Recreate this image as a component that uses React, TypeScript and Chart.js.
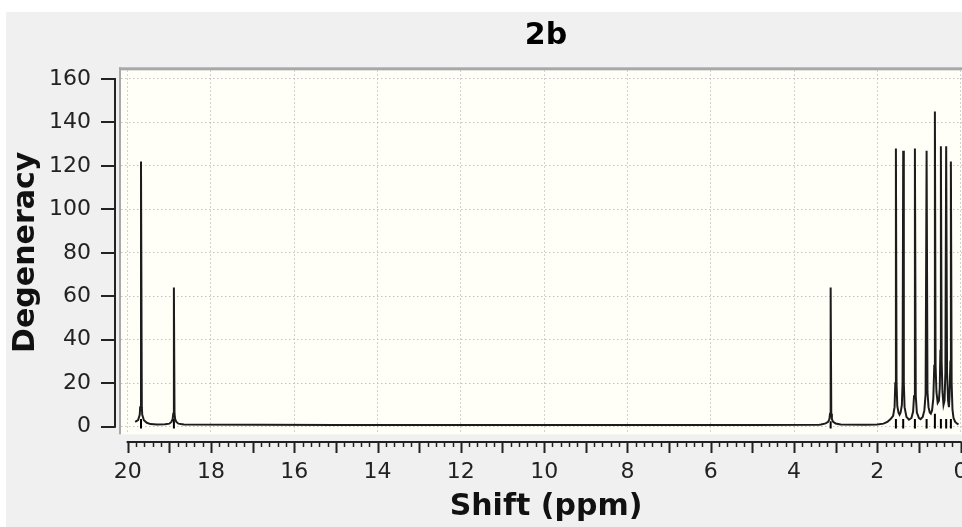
import { useEffect, useRef } from "react";
import { Chart, registerables } from "chart.js";

Chart.register(...registerables);

const TITLE = "2b";
const X_TITLE = "Shift (ppm)";
const Y_TITLE = "Degeneracy";

const X_TICKS = [20, 18, 16, 14, 12, 10, 8, 6, 4, 2, 0];
const Y_TICKS = [0, 20, 40, 60, 80, 100, 120, 140, 160];

// Simulated spectrum trace (ppm, degeneracy), grouped by peak
const SHIFT_PPM = [
  19.82, 19.75, 19.71, 19.7, 19.68, 19.66, 19.65, 19.61, 19.54, 19.45, 19.3,
  19.1, 19.0, 18.95, 18.92, 18.905, 18.89, 18.875, 18.86, 18.83, 18.78, 18.65,
  15.0, 12.0, 8.0, 5.0, 3.4,
  3.35, 3.24, 3.18, 3.15, 3.135, 3.12, 3.105, 3.09, 3.06, 3.0, 2.88, 2.3,
  2.0, 1.85, 1.76, 1.68, 1.62, 1.585, 1.568, 1.553, 1.538, 1.52, 1.49, 1.465,
  1.44, 1.41, 1.393, 1.378, 1.363, 1.345, 1.3, 1.24,
  1.18, 1.14, 1.118, 1.097, 1.076, 1.05, 1.0, 0.96,
  0.91, 0.87, 0.84, 0.816, 0.795, 0.77, 0.74, 0.715,
  0.685, 0.655, 0.632, 0.617, 0.6, 0.58, 0.55,
  0.52, 0.5, 0.485, 0.473, 0.455, 0.435, 0.41,
  0.385, 0.365, 0.346, 0.325, 0.3, 0.28,
  0.265, 0.245, 0.233, 0.215, 0.195, 0.17, 0.13, 0.08, 0.05,
];
const DEGENERACY = [
  2.2, 3.0, 5.5, 9, 122, 9, 5.5, 3.0, 1.8, 1.2, 1.0,
  1.1, 1.4, 2.2, 3.5, 6, 64, 6, 3.5, 2.2, 1.4, 1.0,
  0.8, 0.8, 0.8, 0.8, 0.9,
  1.0, 1.5, 2.2, 3.5, 6, 64, 6, 3.5, 2.2, 1.5, 1.0, 0.9,
  1.0, 1.4, 2.2, 3.5, 5, 9, 20, 128, 20, 9.5, 6.5, 5.5,
  6.5, 10, 20, 127, 20, 9, 4.5, 3.2,
  4, 7, 14, 128, 14, 6.5, 4, 3.5,
  4.5, 7.5, 15, 127, 16, 9, 6.5, 6,
  7.5, 13, 28, 145, 28, 16, 11,
  12, 18, 35, 129, 30, 16, 10,
  12, 25, 129, 25, 12, 9,
  14, 30, 122, 20, 8, 4, 2.2, 1.4, 1.0,
];

// Stick markers under each peak
const STICK_PPM = [19.68, 18.89, 3.12, 1.553, 1.378, 1.097, 0.816, 0.617, 0.473, 0.346, 0.233];
const STICK_TOP = [3.5, 3.5, 2.5, 3.5, 3.5, 3.5, 3.5, 6, 3.5, 3.5, 3.5];
const STICK_BASE = -0.8;

const X_MIN = -0.25;
const X_MAX = 20.16;
const Y_MIN = -3.5;
const Y_MAX = 164;

const TICK_FONT = { family: "DejaVu Sans", size: 22, weight: "normal" as const };
const TITLE_FONT = { family: "DejaVu Sans", size: 30, weight: "bold" as const };

const decorPlugin = {
  id: "decor",
  beforeDraw(chart: any) {
    const { ctx, chartArea: a, width, height } = chart;
    ctx.save();
    ctx.fillStyle = "#ffffff";
    ctx.fillRect(0, 0, width, height);
    ctx.fillStyle = "#f0f0f0";
    ctx.fillRect(6, 12, width - 6, height - 12);
    ctx.fillStyle = "#fffff7";
    ctx.fillRect(a.left, a.top, a.right - a.left, a.bottom - a.top);
    ctx.fillStyle = "#a8a8a8";
    ctx.fillRect(a.left - 2, a.top - 3, a.right - a.left + 2, 3);
    ctx.fillRect(a.left - 2, a.top - 3, 2, a.bottom - a.top + 3);
    ctx.restore();
  },
  afterDraw(chart: any) {
    const { ctx, chartArea: a, scales } = chart;
    const xs = scales.x;
    const ys = scales.y;
    ctx.save();
    ctx.strokeStyle = "#222";
    ctx.lineCap = "butt";
    // y axis line + ticks
    const yAxisX = a.left - 6;
    const yTop = ys.getPixelForValue(Y_TICKS[Y_TICKS.length - 1]);
    const yBot = ys.getPixelForValue(Y_TICKS[0]);
    ctx.lineWidth = 2;
    ctx.beginPath();
    ctx.moveTo(yAxisX, yTop - 1);
    ctx.lineTo(yAxisX, yBot + 1);
    ctx.stroke();
    for (const v of Y_TICKS) {
      const py = Math.round(ys.getPixelForValue(v));
      ctx.beginPath();
      ctx.moveTo(yAxisX - 14, py);
      ctx.lineTo(yAxisX, py);
      ctx.stroke();
    }
    // x axis line + ticks (major every 1 ppm, minor every 0.2 ppm)
    const xAxisY = Math.round(a.bottom + 7.5);
    const xL = xs.getPixelForValue(X_TICKS[0]);
    const xR = xs.getPixelForValue(X_TICKS[X_TICKS.length - 1]);
    ctx.beginPath();
    ctx.moveTo(xL - 1, xAxisY);
    ctx.lineTo(xR + 1, xAxisY);
    ctx.stroke();
    for (let i = 0; i <= 100; i++) {
      const v = i * 0.2;
      const px = Math.round(xs.getPixelForValue(v)) + 0.5;
      const major = i % 5 === 0;
      ctx.lineWidth = major ? 2 : 1.5;
      ctx.beginPath();
      ctx.moveTo(px, xAxisY);
      ctx.lineTo(px, xAxisY + (major ? 11 : 5));
      ctx.stroke();
    }
    ctx.restore();
  },
};

export default function App() {
  const ref = useRef<HTMLCanvasElement | null>(null);

  useEffect(() => {
    document.body.style.margin = "0";
    const canvas = ref.current;
    if (!canvas) return;

    const spectrum = SHIFT_PPM.map((x, i) => ({ x, y: DEGENERACY[i] }));
    const sticks: { x: number; y: number | null }[] = [];
    STICK_PPM.forEach((x, i) => {
      sticks.push({ x, y: STICK_BASE });
      sticks.push({ x, y: STICK_TOP[i] });
      sticks.push({ x, y: null });
    });

    const chart = new Chart(canvas, {
      type: "line",
      data: {
        datasets: [
          {
            label: "spectrum",
            data: spectrum as any,
            borderColor: "#1c1c1c",
            borderWidth: 2,
            pointRadius: 0,
            tension: 0,
          },
          {
            label: "sticks",
            data: sticks as any,
            borderColor: "#000000",
            borderWidth: 2,
            pointRadius: 0,
            spanGaps: false,
          },
        ],
      },
      options: {
        responsive: false,
        animation: false,
        events: [],
        layout: { padding: 0 },
        plugins: {
          legend: { display: false },
          tooltip: { enabled: false },
          title: {
            display: true,
            text: TITLE,
            fullSize: false,
            color: "#000",
            font: { family: "DejaVu Sans", size: 30, weight: "bold" },
            padding: { top: 18, bottom: 16.3 },
          },
        },
        scales: {
          x: {
            type: "linear",
            reverse: true,
            min: X_MIN,
            max: X_MAX,
            afterBuildTicks: (s: any) => {
              s.ticks = X_TICKS.map((value) => ({ value }));
            },
            afterFit: (s: any) => {
              s.height = 92.7;
            },
            grid: {
              color: "#c2c2c2",
              lineWidth: 1,
              drawTicks: true,
              tickLength: 25,
              tickColor: "rgba(0,0,0,0)",
            },
            border: { display: false, dash: [1.5, 2.5] },
            ticks: {
              padding: 0,
              font: TICK_FONT,
              color: "#222",
              maxRotation: 0,
              autoSkip: false,
            },
            title: {
              display: true,
              text: X_TITLE,
              color: "#111",
              font: TITLE_FONT,
              padding: { top: 0, bottom: 2 },
            },
          },
          y: {
            type: "linear",
            min: Y_MIN,
            max: Y_MAX,
            afterBuildTicks: (s: any) => {
              s.ticks = Y_TICKS.map((value) => ({ value }));
            },
            afterFit: (s: any) => {
              s.width = 121;
            },
            grid: {
              color: "#c2c2c2",
              lineWidth: 1,
              drawTicks: true,
              tickLength: 30,
              tickColor: "rgba(0,0,0,0)",
            },
            border: { display: false, dash: [1.5, 2.5] },
            ticks: {
              padding: 0,
              font: TICK_FONT,
              color: "#222",
              autoSkip: false,
            },
            title: {
              display: true,
              text: Y_TITLE,
              color: "#111",
              font: TITLE_FONT,
              padding: { top: 8, bottom: 0 },
            },
          },
        },
      },
      plugins: [decorPlugin],
    });

    return () => chart.destroy();
  }, []);

  return (
    <div
      style={{
        position: "absolute",
        left: 0,
        top: 0,
        width: 962,
        height: 527,
        overflow: "hidden",
      }}
    >
      <canvas ref={ref} width={971} height={527} style={{ width: 971, height: 527, display: "block" }} />
    </div>
  );
}
